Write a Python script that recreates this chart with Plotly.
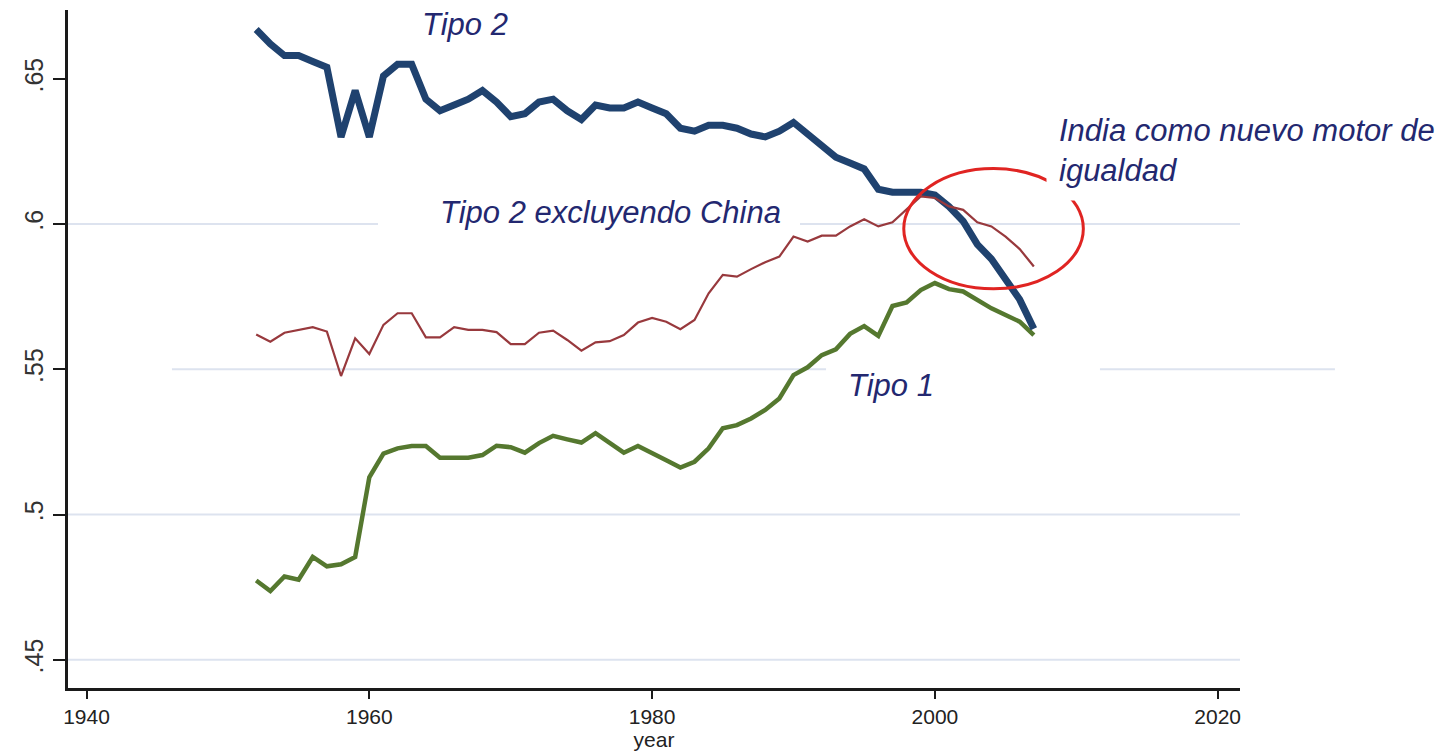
import plotly.graph_objects as go

# ---- data ----
years = [1952, 1953, 1954, 1955, 1956, 1957, 1958, 1959, 1960, 1961,
         1962, 1963, 1964, 1965, 1966, 1967, 1968, 1969, 1970, 1971,
         1972, 1973, 1974, 1975, 1976, 1977, 1978, 1979, 1980, 1981,
         1982, 1983, 1984, 1985, 1986, 1987, 1988, 1989, 1990, 1991,
         1992, 1993, 1994, 1995, 1996, 1997, 1998, 1999, 2000, 2001,
         2002, 2003, 2004, 2005, 2006, 2007]

tipo2 = [0.667, 0.662, 0.658, 0.658, 0.656, 0.654, 0.630, 0.646, 0.630, 0.651,
         0.655, 0.655, 0.643, 0.639, 0.641, 0.643, 0.646, 0.642, 0.637, 0.638,
         0.642, 0.643, 0.639, 0.636, 0.641, 0.640, 0.640, 0.642, 0.640, 0.638,
         0.633, 0.632, 0.634, 0.634, 0.633, 0.631, 0.630, 0.632, 0.635, 0.631,
         0.627, 0.623, 0.621, 0.619, 0.612, 0.611, 0.611, 0.611, 0.610, 0.606,
         0.601, 0.593, 0.588, 0.581, 0.574, 0.564]

tipo2_sin_china = [0.5620, 0.5595, 0.5626, 0.5636, 0.5645, 0.5630, 0.5477, 0.5607, 0.5553, 0.5653,
                   0.5693, 0.5693, 0.5610, 0.5610, 0.5645, 0.5636, 0.5636, 0.5628, 0.5587, 0.5587,
                   0.5626, 0.5633, 0.5601, 0.5564, 0.5593, 0.5597, 0.5618, 0.5661, 0.5677, 0.5664,
                   0.5638, 0.5670, 0.5762, 0.5825, 0.5819, 0.5845, 0.5869, 0.5888, 0.5957, 0.5940,
                   0.5960, 0.5960, 0.5992, 0.6017, 0.5992, 0.6006, 0.6049, 0.6095, 0.6090, 0.6061,
                   0.6049, 0.6006, 0.5992, 0.5957, 0.5914, 0.5854]

tipo1 = [0.4773, 0.4737, 0.4787, 0.4776, 0.4854, 0.4822, 0.4829, 0.4854, 0.5128, 0.5210,
         0.5228, 0.5236, 0.5236, 0.5196, 0.5196, 0.5196, 0.5205, 0.5237, 0.5232, 0.5213,
         0.5246, 0.5271, 0.5259, 0.5248, 0.5280, 0.5248, 0.5213, 0.5236, 0.5213, 0.5187,
         0.5162, 0.5182, 0.5228, 0.5297, 0.5308, 0.5331, 0.5360, 0.5400, 0.5480, 0.5507,
         0.5549, 0.5569, 0.5622, 0.5649, 0.5615, 0.5718, 0.5730, 0.5773, 0.5797, 0.5776,
         0.5768, 0.5739, 0.5710, 0.5687, 0.5664, 0.5618]

x_ticks = [1940, 1960, 1980, 2000, 2020]
y_ticks = [0.45, 0.5, 0.55, 0.6, 0.65]
y_ticktext = [".45", ".5", ".55", ".6", ".65"]

# ---- style ----
NAVY = "#1f426f"
MAROON = "#98393d"
GREEN = "#55782f"
TXT = "#232870"
GRID = "#dde3ef"
NARROW = "Liberation Sans Narrow, Arial Narrow, Liberation Sans, Arial, sans-serif"
SANS = "Liberation Sans, Arial, sans-serif"

fig = go.Figure()
fig.add_trace(go.Scatter(x=years, y=tipo1, mode="lines",
                         line=dict(color=GREEN, width=4.5), name="Tipo 1"))
fig.add_trace(go.Scatter(x=years, y=tipo2, mode="lines",
                         line=dict(color=NAVY, width=7), name="Tipo 2"))
fig.add_trace(go.Scatter(x=years, y=tipo2_sin_china, mode="lines",
                         line=dict(color=MAROON, width=2.2), name="Tipo 2 excluyendo China"))

# gridlines (segments, interrupted as in the reference)
grid_segments = [
    (0.45, 0.0, 1.0),
    (0.5, 0.0, 1.0),
    (0.55, 0.0887, 0.6468),
    (0.55, 0.8805, 1.081),
    (0.6, 0.0, 0.2645),
    (0.6, 0.6246, 1.0),
]
for yv, a, b in grid_segments:
    fig.add_shape(type="line", xref="paper", yref="y", x0=a, x1=b, y0=yv, y1=yv,
                  line=dict(color=GRID, width=2), layer="below")

# red ellipse highlight
fig.add_shape(type="circle", xref="x", yref="y",
              x0=1997.8, x1=2010.5, y0=0.5777, y1=0.6191,
              line=dict(color="#e02422", width=3), layer="above")

annotations = [
    dict(text="<i>Tipo 2</i>", x=0.3387, y=0.9779, xanchor="center", yanchor="middle"),
    dict(text="<i>Tipo 2 excluyendo China</i>", x=0.3157, y=0.7006, xanchor="left", yanchor="middle"),
    dict(text="<i>Tipo 1</i>", x=0.7022, y=0.4469, xanchor="center", yanchor="middle"),
    dict(text="<i>India como nuevo motor de<br>igualdad</i>", x=0.8345, y=0.7935,
         xanchor="left", yanchor="middle", align="left", bgcolor="white", borderpad=12),
]
for a in annotations:
    fig.add_annotation(xref="paper", yref="paper", showarrow=False,
                       font=dict(family=SANS, size=31, color=TXT), **a)

# the page body adds an 8px margin, so the figure is drawn 8px smaller
fig.update_layout(
    width=1442, height=743,
    margin=dict(l=60, r=210, t=2, b=63, autoexpand=False),
    paper_bgcolor="white", plot_bgcolor="white",
    showlegend=False,
    font=dict(family=NARROW, size=21, color="#222222"),
)
fig.update_xaxes(
    range=[1938.69, 2021.58], tickvals=x_ticks, ticks="outside", ticklen=8,
    tickwidth=2, tickcolor="#1a1a1a", showline=True, linecolor="#1a1a1a", linewidth=2.5,
    showgrid=False, zeroline=False, automargin=False,
    tickfont=dict(family=NARROW, size=21, color="#222222"),
    title=dict(text="year", standoff=2, font=dict(family=NARROW, size=21, color="#222222")),
)
fig.update_yaxes(
    range=[0.4403, 0.6737], tickvals=y_ticks, ticktext=y_ticktext, tickangle=-90,
    ticks="outside", ticklen=12, tickwidth=2, tickcolor="#1a1a1a",
    showline=True, linecolor="#1a1a1a", linewidth=2.5, showgrid=False, zeroline=False,
    automargin=False,
    tickfont=dict(family=SANS, size=25, color="#333333"),
)

fig.write_html("out.html")
